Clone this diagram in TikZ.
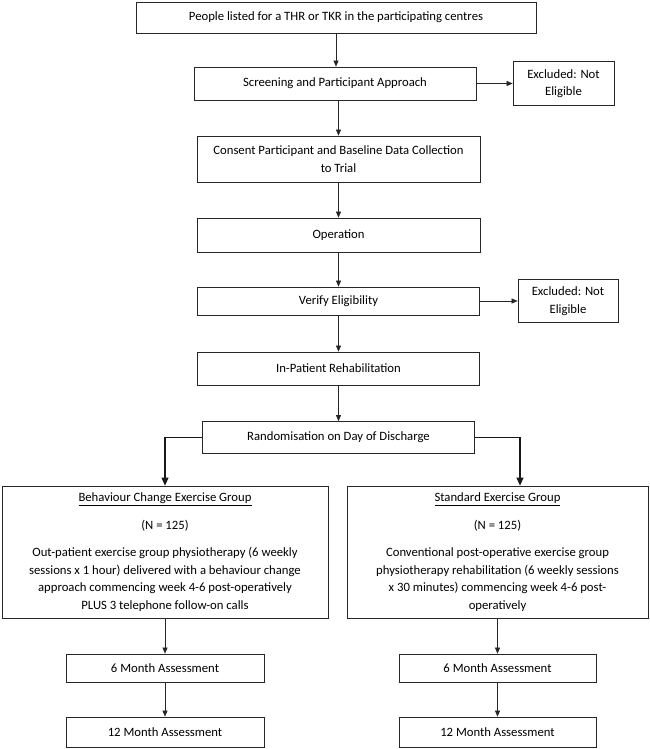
\documentclass[tikz,border=0pt]{standalone}
\usepackage{fontspec}
\setmainfont{Carlito}
\usetikzlibrary{arrows.meta}
\tikzset{
  box/.style   = {draw=black!85, line width=0.7pt, align=center, inner sep=2pt,
                  font=\fontsize{12.7}{17.5}\selectfont},
  flow/.style  = {draw=black!85, line width=0.6pt, -{Triangle[length=6pt,width=5pt]}},
  split/.style = {draw=black!90, line width=1.1pt, -{Triangle[length=8pt,width=7pt]}},
}
\begin{document}
\begin{tikzpicture}[x=1pt, y=-1pt]
  \useasboundingbox (0,0) rectangle (649,749);
  % main column
  \node [box, minimum width=400, minimum height=31] (list)    at (336,17.5)
        {People listed for a THR or TKR in the participating centres};
  \node [box, minimum width=282, minimum height=33] (screen)  at (335,83.5)
        {Screening and Participant Approach};
  \node [box, minimum width=101, minimum height=44] (excla)   at (563.5,83.5)
        {Excluded: Not\\Eligible};
  \node [box, minimum width=283, minimum height=46] (consent) at (338.5,159)
        {Consent Participant and Baseline Data Collection\\to Trial};
  \node [box, minimum width=283, minimum height=34] (oper)    at (338.5,235)
        {Operation};
  \node [box, minimum width=282, minimum height=28] (verify)  at (338.5,301)
        {Verify Eligibility};
  \node [box, minimum width=100, minimum height=43] (exclb)   at (568,301)
        {Excluded: Not\\Eligible};
  \node [box, minimum width=282, minimum height=33] (inpat)   at (338.5,368.5)
        {In-Patient Rehabilitation};
  \node [box, minimum width=272, minimum height=32] (rand)    at (338.5,437.5)
        {Randomisation on Day of Discharge};
  % the two arms
  \node [box, minimum width=326, minimum height=132] (bce) at (165,552)
        {\underline{Behaviour Change Exercise Group}\\[10.5pt]
         (N = 125)\\[9.5pt]
         Out-patient exercise group physiotherapy (6 weekly\\
         sessions x 1 hour) delivered with a behaviour change\\
         approach commencing week 4-6 post-operatively\\
         PLUS 3 telephone follow-on calls};
  \node [box, minimum width=301, minimum height=132] (seg) at (497.5,552)
        {\underline{Standard Exercise Group}\\[10.5pt]
         (N = 125)\\[9.5pt]
         Conventional post-operative exercise group\\
         physiotherapy rehabilitation (6 weekly sessions\\
         x 30 minutes) commencing week 4-6 post-\\
         operatively};
  \node [box, minimum width=198, minimum height=28] (sixa) at (165,668)   {6 Month Assessment};
  \node [box, minimum width=197, minimum height=28] (sixb) at (497.5,668) {6 Month Assessment};
  \node [box, minimum width=198, minimum height=30] (twa)  at (165,732)   {12 Month Assessment};
  \node [box, minimum width=197, minimum height=30] (twb)  at (497.5,732) {12 Month Assessment};

  \draw [flow] (list.south) -- (list.south |- screen.north);
  \draw [flow] (consent.north |- screen.south) -- (consent.north);
  \draw [flow] (screen.east) -- (excla.west);
  \draw [flow] (consent) -- (oper);
  \draw [flow] (oper) -- (verify);
  \draw [flow] (verify.east) -- (exclb.west);
  \draw [flow] (verify) -- (inpat);
  \draw [flow] (inpat) -- (rand);
  \draw [split] (rand.west) -| (bce.north);
  \draw [split] (rand.east) -| ([xshift=22.5pt]seg.north);
  \draw [flow] (bce) -- (sixa);
  \draw [flow] (sixa) -- (twa);
  \draw [flow] (seg) -- (sixb);
  \draw [flow] (sixb) -- (twb);
\end{tikzpicture}
\end{document}
